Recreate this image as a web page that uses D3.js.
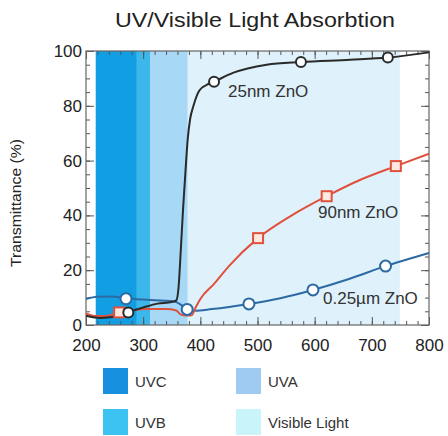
<!DOCTYPE html>
<html>
<head>
<meta charset="utf-8">
<script src="https://cdn.jsdelivr.net/npm/d3@7"></script>
<style>
  body { margin: 0; background: #fff; }
  svg { font-family: "Liberation Sans", Arial, Helvetica, sans-serif; }
</style>
</head>
<body>
<script>
// spectrum bands (nm)
var bandNames = ['UVC', 'UVB', 'UVA', 'Visible Light'];
var bandStart = [217, 289, 312, 378];
var bandEnd = [289, 312, 378, 749];
var bandColors = ['#119ee3', '#3cb7eb', '#a7d8f6', '#dff1fb'];
var legendColors = ['#1790e0', '#3dc3f1', '#9fcbf3', '#c9f4f9'];

// 25nm ZnO curve
var nm25X = [200, 225, 250, 275, 300, 325, 350, 358, 362, 366, 370, 374, 378, 382, 388, 398, 410, 424, 457, 516, 576, 662, 728, 800];
var nm25Y = [3.4, 2.6, 3.0, 4.8, 6.4, 7.8, 8.4, 9, 14, 28, 43, 56, 68, 75, 80, 85.5, 87.5, 88.8, 92, 95, 96, 96.8, 97.6, 99.5];
var nm25MarkX = [274, 424, 576, 728];
var nm25MarkY = [4.6, 88.8, 96, 97.6];

// 90nm ZnO curve
var nm90X = [200, 215, 235, 258, 280, 305, 340, 358, 366, 375, 385, 392, 400, 424, 450, 501, 560, 621, 680, 742, 800];
var nm90Y = [4.2, 3.3, 3.3, 4.6, 5.3, 5.8, 5.8, 5.3, 3.8, 3.5, 3.6, 6.5, 9.5, 15, 21.5, 31.7, 40, 47, 53, 58, 62.5];
var nm90MarkX = [258, 501, 621, 742];
var nm90MarkY = [4.6, 31.7, 47, 58];

// 0.25um ZnO curve
var um25X = [200, 220, 245, 270, 300, 330, 355, 365, 377, 390, 420, 485, 540, 597, 660, 724, 800];
var um25Y = [9.5, 10.3, 10.4, 9.8, 9.3, 8.9, 8.6, 7.5, 5.7, 5.2, 5.8, 7.7, 9.8, 12.8, 16.8, 21.5, 26.3];
var um25MarkX = [270, 377, 485, 597, 724];
var um25MarkY = [9.6, 5.7, 7.7, 12.8, 21.5];

var xTicks = [200, 300, 400, 500, 600, 700, 800];
var yTicks = [0, 20, 40, 60, 80, 100];

var svg = d3.select('body').append('svg').attr('width', 448).attr('height', 436);

var x = d3.scaleLinear().domain([200, 800]).range([86, 429]);
var y = d3.scaleLinear().domain([0, 100]).range([325, 51]);

// title
svg.append('text').attr('x', 255).attr('y', 27).attr('text-anchor', 'middle')
  .attr('font-size', 21).attr('fill', '#222')
  .attr('textLength', 280).attr('lengthAdjust', 'spacingAndGlyphs')
  .text('UV/Visible Light Absorbtion');

// y title
svg.append('text').attr('transform', 'translate(21,203) rotate(-90)')
  .attr('text-anchor', 'middle').attr('font-size', 15).attr('fill', '#222')
  .attr('textLength', 128).attr('lengthAdjust', 'spacingAndGlyphs')
  .text('Transmittance (%)');

// bands
svg.selectAll('rect.band').data(bandNames).enter().append('rect').attr('class', 'band')
  .attr('x', function(d, i) { return x(bandStart[i]); })
  .attr('width', function(d, i) { return x(bandEnd[i]) - x(bandStart[i]); })
  .attr('y', y(100)).attr('height', y(0) - y(100))
  .attr('fill', function(d, i) { return bandColors[i]; });

// axes, ticks pointing inward
var minorX = d3.range(200, 801, 20);
var minorY = d3.range(0, 101, 5);
function styleAxis(g) {
  g.select('.domain').remove();
  g.selectAll('line').attr('stroke', '#555');
  g.selectAll('text').attr('font-size', 17).attr('fill', '#222');
}
var h = y(0), w = x(800);
svg.append('g').attr('transform', 'translate(0,' + h + ')')
  .call(d3.axisBottom(x).tickValues(minorX).tickSize(-4).tickFormat('')).call(styleAxis);
svg.append('g').attr('transform', 'translate(0,' + h + ')')
  .call(d3.axisBottom(x).tickValues(xTicks).tickSize(-8).tickPadding(14).tickFormat(d3.format('d'))).call(styleAxis);
svg.append('g').attr('transform', 'translate(0,' + y(100) + ')')
  .call(d3.axisTop(x).tickValues(minorX).tickSize(-4).tickFormat('')).call(styleAxis);
svg.append('g').attr('transform', 'translate(0,' + y(100) + ')')
  .call(d3.axisTop(x).tickValues(xTicks).tickSize(-8).tickFormat('')).call(styleAxis);
svg.append('g').attr('transform', 'translate(' + x(200) + ',0)')
  .call(d3.axisLeft(y).tickValues(minorY).tickSize(-4).tickFormat('')).call(styleAxis);
svg.append('g').attr('transform', 'translate(' + x(200) + ',0)')
  .call(d3.axisLeft(y).tickValues(yTicks).tickSize(-8).tickPadding(4)).call(styleAxis);
svg.append('g').attr('transform', 'translate(' + w + ',0)')
  .call(d3.axisRight(y).tickValues(minorY).tickSize(-4).tickFormat('')).call(styleAxis);
svg.append('g').attr('transform', 'translate(' + w + ',0)')
  .call(d3.axisRight(y).tickValues(yTicks).tickSize(-8).tickFormat('')).call(styleAxis);

// frame
svg.append('rect').attr('x', x(200)).attr('y', y(100))
  .attr('width', x(800) - x(200)).attr('height', y(0) - y(100))
  .attr('fill', 'none').attr('stroke', '#666').attr('stroke-width', 1.2);

// curves
var line = d3.line().x(function(d) { return x(d[0]); }).y(function(d) { return y(d[1]); })
  .curve(d3.curveMonotoneX);
function pairs(a, b) { return a.map(function(v, i) { return [v, b[i]]; }); }

svg.append('path').datum(pairs(um25X, um25Y)).attr('d', line)
  .attr('fill', 'none').attr('stroke', '#2d6aa3').attr('stroke-width', 2);
svg.append('path').datum(pairs(nm90X, nm90Y)).attr('d', line)
  .attr('fill', 'none').attr('stroke', '#e0513d').attr('stroke-width', 2);
svg.append('path').datum(pairs(nm25X, nm25Y)).attr('d', line)
  .attr('fill', 'none').attr('stroke', '#2a2a2a').attr('stroke-width', 2);

// markers
svg.selectAll('rect.sq').data(pairs(nm90MarkX, nm90MarkY)).enter().append('rect').attr('class', 'sq')
  .attr('x', function(d) { return x(d[0]) - 5; }).attr('y', function(d) { return y(d[1]) - 5; })
  .attr('width', 10).attr('height', 10)
  .attr('fill', '#fde9df').attr('stroke', '#e0513d').attr('stroke-width', 2);
svg.selectAll('circle.k').data(pairs(nm25MarkX, nm25MarkY)).enter().append('circle').attr('class', 'k')
  .attr('cx', function(d) { return x(d[0]); }).attr('cy', function(d) { return y(d[1]); })
  .attr('r', 5).attr('fill', '#fff').attr('stroke', '#2a2a2a').attr('stroke-width', 2);
svg.selectAll('circle.b').data(pairs(um25MarkX, um25MarkY)).enter().append('circle').attr('class', 'b')
  .attr('cx', function(d) { return x(d[0]); }).attr('cy', function(d) { return y(d[1]); })
  .attr('r', 5.5).attr('fill', '#fff').attr('stroke', '#2d6aa3').attr('stroke-width', 2);

// curve labels
svg.append('text').attr('x', 228).attr('y', 97).attr('font-size', 17).attr('fill', '#333').text('25nm ZnO');
svg.append('text').attr('x', 318).attr('y', 218).attr('font-size', 17).attr('fill', '#333').text('90nm ZnO');
svg.append('text').attr('x', 323).attr('y', 304).attr('font-size', 17).attr('fill', '#333').text('0.25\u00b5m ZnO');

// legend
var lgX = [103, 103, 236, 236];
var lgY = [368, 409, 368, 409];
var order = [0, 1, 2, 3];
svg.selectAll('rect.lg').data(order).enter().append('rect').attr('class', 'lg')
  .attr('x', function(i) { return lgX[i]; }).attr('y', function(i) { return lgY[i]; })
  .attr('width', 25).attr('height', 26)
  .attr('fill', function(i) { return legendColors[i]; });
svg.selectAll('text.lg').data(order).enter().append('text').attr('class', 'lg')
  .attr('x', function(i) { return lgX[i] + 32; }).attr('y', function(i) { return lgY[i] + 19; })
  .attr('font-size', 15).attr('fill', '#333')
  .text(function(i) { return bandNames[i]; });
</script>
</body>
</html>
